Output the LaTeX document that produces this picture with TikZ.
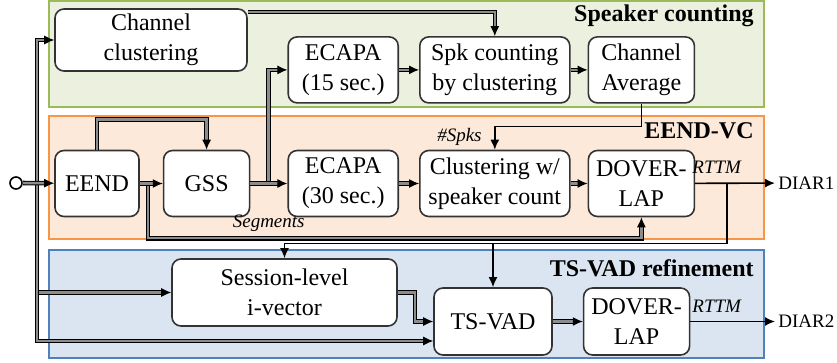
\documentclass[tikz,border=0pt]{standalone}
\usepackage{fontspec}
\setmainfont{Liberation Serif}
\definecolor{spkfill}{RGB}{235,241,222}
\definecolor{spkdraw}{RGB}{155,187,89}
\definecolor{eendfill}{RGB}{253,233,217}
\definecolor{eenddraw}{RGB}{247,150,70}
\definecolor{tsfill}{RGB}{219,229,241}
\definecolor{tsdraw}{RGB}{79,129,189}
\usetikzlibrary{arrows.meta, positioning, calc}
\tikzset{
	block/.style={rectangle, rounded corners=4.5pt, draw=black!80, fill=white, line width=0.8pt, align=center, inner sep=0pt, minimum height=33pt, font=\fontsize{12pt}{15pt}\selectfont},
	panel/.style={line width=0.8pt},
	paneltitle/.style={anchor=east, inner sep=0pt, font=\fontsize{12pt}{14pt}\selectfont\bfseries},
	lbl/.style={inner sep=0pt, font=\fontsize{9.5pt}{11pt}\selectfont\itshape},
	outlbl/.style={inner sep=1.5pt, anchor=west, font=\fontsize{9.5pt}{11pt}\selectfont},
	arrow/.style={-{Latex[length=5pt, width=4.5pt]}, line width=0.8pt},
	multiarrow/.style={-{Latex[length=5pt, width=4.5pt]}, line width=0.55pt, double=black!45, double distance=1.2pt},
}

\begin{document}
\begin{tikzpicture}[x=0.5pt, y=-0.5pt]
		\useasboundingbox (0,0) rectangle (837,363);
		% panels
		\draw[panel, draw=spkdraw, fill=spkfill] (49,1) rectangle (764,107);
		\draw[panel, draw=eenddraw, fill=eendfill] (49,116) rectangle (764,239);
		\draw[panel, draw=tsdraw, fill=tsfill] (49,250) rectangle (764,358);
		\node[paneltitle] (spktitle) at (754,16) {Speaker counting};
		\node[paneltitle] (eendtitle) at (754,131) {EEND-VC};
		\node[paneltitle] (tstitle) at (754,268) {TS-VAD refinement};
		% blocks
		\node[block, minimum width=42pt] (eend) at (97,183.5) {EEND};
		\node[block, minimum width=43pt, right=11.5pt of eend] (gss) {GSS};
		\node[block, minimum width=55pt, right=18.5pt of gss] (ecapalong) {ECAPA\\(30 sec.)};
		\node[block, minimum width=75pt, right=10pt of ecapalong] (clus) {Clustering w/\\speaker count};
		\node[block, minimum width=53pt, right=8.5pt of clus] (dover) {DOVER-\\LAP};
		\node[block, minimum width=55pt, above=23pt of ecapalong] (ecapashort) {ECAPA\\(15 sec.)};
		\node[block, minimum width=75pt, above=23pt of clus] (spkcount) {Spk counting\\by clustering};
		\node[block, minimum width=53pt, above=23pt of dover] (chavg) {Channel\\Average};
		\node[block, minimum width=96pt, minimum height=31pt] (chclus) at (151,40) {Channel\\clustering};
		\node[block, minimum width=112.5pt, minimum height=33.5pt] (ivec) at (284.5,292.5) {Session-level\\i-vector};
		\node[block, minimum width=59pt, minimum height=33.5pt] (tsvad) at (493,321.5) {TS-VAD};
		\node[block, minimum width=53pt, minimum height=33.5pt, right=15pt of tsvad] (dover2) {DOVER-\\LAP};
		% input and its branches
		\node[circle, draw, line width=0.8pt, minimum size=6pt, inner sep=0pt, fill=white] (input) at (16,183) {};
		\coordinate (insplit) at (37,183);
		\coordinate (tslow) at ($(tsvad.west)+(0,19.5)$);
		\draw[multiarrow] (insplit) |- (chclus);
		\draw[multiarrow] (insplit) |- (ivec);
		\draw[multiarrow] (insplit) |- (tslow);
		\draw[multiarrow] (input) -- (eend);
		% EEND-VC
		\coordinate (segsplit) at ($(eend.east)+(8,0)$);
		\coordinate (segcorner) at ($(dover.south)+(0,21)$);
		\draw[multiarrow] (segsplit) |- (segcorner) -- (dover.south);
		\node[lbl, anchor=base east] (seglbl) at (305,228) {Segments};
		\draw[multiarrow] (eend.north) -- ++(0,-30) -| (gss.north);
		\draw[multiarrow] (eend) -- (gss);
		\coordinate (gsssplit) at ($(gss.east)+(18,0)$);
		\draw[multiarrow] (gsssplit) |- (ecapashort);
		\draw[multiarrow] (gss) -- (ecapalong);
		\draw[multiarrow] (ecapalong) -- (clus);
		\draw[multiarrow] (clus) -- (dover);
		% speaker counting
		\coordinate (chclusout) at ($(chclus.north east)+(0,4)$);
		\draw[multiarrow] (chclusout) -| (spkcount.north);
		\draw[multiarrow] (ecapashort) -- (spkcount);
		\draw[multiarrow] (spkcount) -- (chavg);
		\draw[arrow] (chavg.south) -- ++(0,23) -| (clus.north);
		\node[lbl, anchor=east] (spkslbl) at (482,137) {\#Spks};
		% outputs
		\node[outlbl] (diarone) at (775,183) {DIAR1};
		\draw[arrow] (dover) -- (diarone);
		\node[lbl, anchor=base west] (rttmone) at (692,174) {RTTM};
		\coordinate (dsplit) at ($(dover.east)+(32,0)$);
		\draw[arrow] (dsplit) -- ++(0,60) coordinate (dcorner) -| (ivec.north);
		\coordinate (tsdrop) at (tsvad.north |- dcorner);
		\draw[arrow] (tsdrop) -- (tsvad.north);
		% TS-VAD refinement
		\draw[multiarrow] (ivec.east) -- ++(17,0) |- (tsvad.west);
		\draw[multiarrow] (tsvad) -- (dover2);
		\node[outlbl] (diartwo) at (775,321.5) {DIAR2};
		\draw[arrow] (dover2) -- (diartwo);
		\node[lbl, anchor=base west] (rttmtwo) at (692,313) {RTTM};
	\end{tikzpicture}
\end{document}
